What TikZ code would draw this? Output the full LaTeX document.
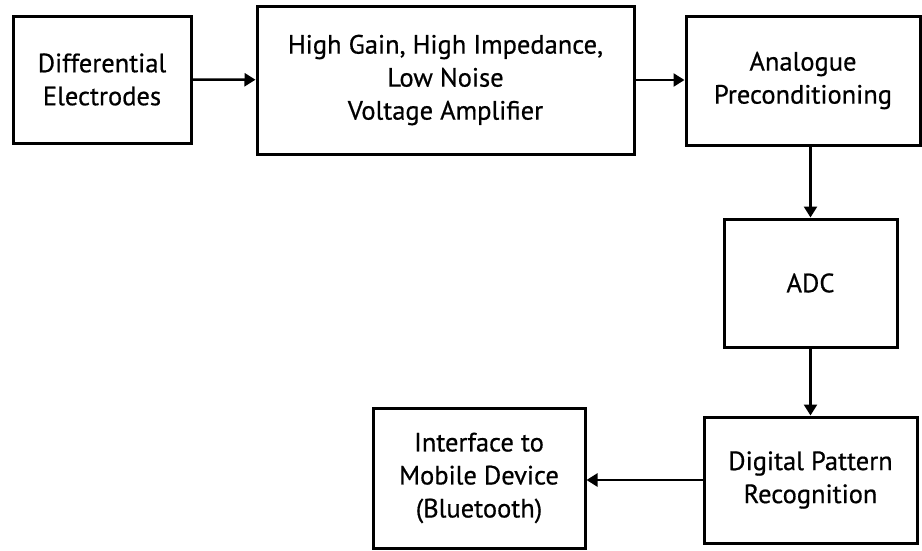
\documentclass[tikz,border=0pt]{standalone}
\usepackage{fontspec}
\setmainfont{PT Sans}[FakeBold=0.6]
\usepackage{tikz}
\usetikzlibrary{arrows.meta,positioning}

\begin{document}
\begin{tikzpicture}[
  x=1pt,y=-1pt,
  box/.style={rectangle,draw=black,line width=3pt,inner sep=0pt,
    align=center,font=\fontsize{26.5}{33}\selectfont},
  arrow/.style={-{Triangle[length=11pt,width=13pt]},line width=2.5pt},
]
\useasboundingbox (0,0) rectangle (922,550);

% top row
\node[box,minimum width=178,minimum height=127] (diff) at (102,79.5)
  {Differential\\Electrodes};
\node[box,minimum width=377,minimum height=148] (amp) at (445.5,80)
  {High Gain, High Impedance,\\Low Noise\\Voltage Amplifier};
\node[box,minimum width=234,minimum height=129] (precond) at (803,80.5)
  {Analogue\\Preconditioning};

% right column and bottom row
\node[box,minimum width=173,minimum height=128] (adc) at (810.5,283) {ADC};
\node[box,minimum width=213,minimum height=126] (dpr) at (810.5,480)
  {Digital Pattern\\Recognition};
\node[box,minimum width=212,minimum height=140] (iface) at (479,478)
  {Interface to\\Mobile Device\\(Bluetooth)};

\draw[arrow] (diff) -- (amp);
\draw[arrow] (amp) -- (amp -| precond.west);
\draw[arrow] (precond.south -| adc.north) -- (adc.north);
\draw[arrow] (adc) -- (dpr);
\draw[arrow] (dpr.west) -- (dpr.west -| iface.east);
\end{tikzpicture}
\end{document}
